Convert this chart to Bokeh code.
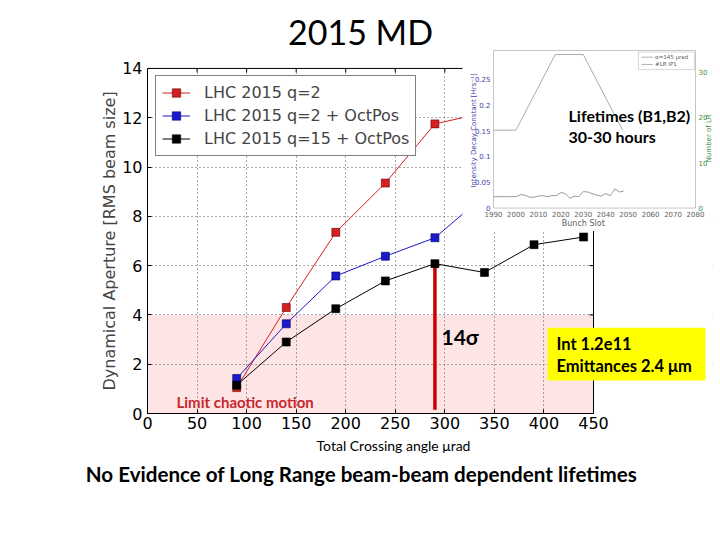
import numpy as np
from bokeh.plotting import figure
from bokeh.models import Range1d, FixedTicker, Label, BoxAnnotation, Title
from bokeh.core.properties import value
from bokeh.embed import file_html
from bokeh.resources import INLINE

# ---------------- data ----------------
angles = [90, 140, 190, 240, 290, 340, 390, 440]
da_q2 = [1.05, 4.3, 7.35, 9.35, 11.75, 12.2]
da_q2_oct = [1.42, 3.64, 5.58, 6.38, 7.13, 8.85]
da_q15_oct = [1.15, 2.9, 4.25, 5.38, 6.08, 5.72, 6.85, 7.16]
series_labels = ["LHC 2015 q=2", "LHC 2015 q=2 + OctPos", "LHC 2015 q=15 + OctPos"]
x_ticks = [0, 50, 100, 150, 200, 250, 300, 350, 400, 450]
y_ticks = [0, 2, 4, 6, 8, 10, 12, 14]
chaos_limit = 4.0
sigma_angle = 290
sigma_da = 6.08
sigma_base = 0.15

# inset (bunch-by-bunch lifetime) data
slot_lr = [1990, 2000, 2017.5, 2030, 2047.5]
n_lr = [17.2, 17.2, 33.9, 33.9, 17.2]
slot_decay = [1990, 1995, 2000, 2002, 2004, 2006, 2008, 2010, 2012, 2014, 2016, 2018,
              2020, 2022, 2024, 2026, 2028, 2030, 2032, 2034, 2036, 2038, 2040, 2042,
              2043, 2044, 2045, 2046, 2048]
decay = [0.022, 0.022, 0.022, 0.026, 0.025, 0.021, 0.021, 0.023, 0.024, 0.022, 0.024, 0.024,
         0.030, 0.028, 0.019, 0.023, 0.022, 0.032, 0.031, 0.028, 0.025, 0.023, 0.028, 0.024,
         0.030, 0.037, 0.035, 0.031, 0.033]
inset_x_ticks = [1990, 2000, 2010, 2020, 2030, 2040, 2050, 2060, 2070, 2080]
inset_left_ticks = [0, 0.05, 0.1, 0.15, 0.2, 0.25]
inset_left_labels = ["0", "0.05", "0.1", "0.15", "0.2", "0.25"]
inset_right_ticks = [0, 10, 20, 30]

# ---------------- layout helpers (reference pixel -> data) ----------------
W, H = 720, 540
F_LEFT, F_RIGHT, F_TOP, F_BOTTOM = 147, 712, 40, 413
X450_PX, Y14_PX = 593, 67
PX_PER_X = (X450_PX - F_LEFT) / 450.0
PX_PER_Y = (F_BOTTOM - Y14_PX) / 14.0
X_END = (F_RIGHT - F_LEFT) / PX_PER_X
Y_END = (F_BOTTOM - F_TOP) / PX_PER_Y
TICK_PX = 4


def dx(px):
    return (px - F_LEFT) / PX_PER_X


def dy(py):
    return (F_BOTTOM - py) / PX_PER_Y


p = figure(width=W, height=H, x_range=Range1d(0, X_END), y_range=Range1d(0, Y_END),
           output_backend="svg", toolbar_location=None,
           min_border_left=F_LEFT, min_border_right=W - F_RIGHT,
           min_border_top=F_TOP, min_border_bottom=H - F_BOTTOM)
p.outline_line_color = None
p.background_fill_color = "white"
p.border_fill_color = "white"

# axes
for ax, ticks, bnds in ((p.xaxis[0], x_ticks, (0, 450)), (p.yaxis[0], y_ticks, (0, 14))):
    ax.ticker = FixedTicker(ticks=ticks)
    ax.bounds = bnds
    ax.major_tick_in = TICK_PX
    ax.major_tick_out = 0
    ax.minor_tick_line_color = None
    ax.axis_line_color = "black"
    ax.major_tick_line_color = "black"
    ax.major_label_text_font = "DejaVu Sans"
    ax.major_label_text_font_size = "16px"
    ax.major_label_text_color = "black"
p.xaxis.major_label_standoff = 3
p.yaxis.major_label_standoff = 5

p.xgrid.ticker = FixedTicker(ticks=x_ticks)
p.ygrid.ticker = FixedTicker(ticks=y_ticks)
for g in (p.xgrid[0], p.ygrid[0]):
    g.grid_line_color = "#555555"
    g.grid_line_dash = "1 3"
    g.grid_line_width = 1

# chaotic-motion zone
p.add_layout(BoxAnnotation(left=0, right=x_ticks[-1], bottom=0, top=chaos_limit,
                           fill_color="#fde5e5", fill_alpha=1, line_color=None, level="image"))

# mask grid outside the main axes box
p.quad(left=[0], right=[X_END], bottom=[y_ticks[-1]], top=[Y_END], fill_color="white", line_color=None)
p.quad(left=[x_ticks[-1]], right=[X_END], bottom=[0], top=[Y_END], fill_color="white", line_color=None)
# top and right spines with inward ticks (matplotlib style box)
xmax, ymax = x_ticks[-1], y_ticks[-1]
p.segment(x0=[0, xmax], y0=[ymax, 0], x1=[xmax, xmax], y1=[ymax, ymax], line_color="black", line_width=1)
p.segment(x0=x_ticks, y0=[ymax] * len(x_ticks), x1=x_ticks,
          y1=[ymax - TICK_PX / PX_PER_Y] * len(x_ticks), line_color="black", line_width=1)
p.segment(x0=[xmax] * len(y_ticks), y0=y_ticks, x1=[xmax - TICK_PX / PX_PER_X] * len(y_ticks),
          y1=y_ticks, line_color="black", line_width=1)

# 14 sigma line
p.segment(x0=[sigma_angle], y0=[sigma_base], x1=[sigma_angle], y1=[sigma_da],
          line_color="#cc0000", line_width=3.5)

colors = ["#d42020", "#1a1acc", "#000000"]
edges = ["#6a0000", "#000060", "#000000"]
for ys, col, ed, lab in zip([da_q2, da_q2_oct, da_q15_oct], colors, edges, series_labels):
    xs = angles[:len(ys)]
    p.line(xs, ys, line_color=col, line_width=1, legend_label=lab)
    p.scatter(xs, ys, marker="square", size=8, fill_color=col, line_color=ed, line_width=0.6,
              legend_label=lab)

leg = p.legend[0]
leg.location = (8, 257)
leg.label_text_font = "DejaVu Sans"
leg.label_text_font_size = "16px"
leg.glyph_width = 28
leg.glyph_height = 21
leg.label_height = 21
leg.label_standoff = 14
leg.spacing = 2
leg.padding = 6
leg.margin = 0
leg.border_line_color = "black"
leg.border_line_width = 1
leg.background_fill_alpha = 1

# ---------------- inset ----------------
p.quad(left=[dx(462)], right=[X_END], bottom=[dy(230)], top=[Y_END], fill_color="white", line_color=None)
xt = Range1d(dx(493), dx(695))
yt = Range1d(dy(207), dy(49))
sub_l = p.subplot(x_source=Range1d(1990, 2080), y_source=Range1d(0, 0.305), x_target=xt, y_target=yt)
sub_r = p.subplot(x_source=Range1d(1990, 2080), y_source=Range1d(0, 34.8), x_target=xt, y_target=yt)

sub_l.quad(left=[1990], right=[2080], bottom=[0], top=[0.305], fill_color=None,
           line_color="#b5b5b5", line_width=0.8)
sub_r.line(slot_lr, n_lr, line_color="#ababab", line_width=1)
sub_l.line(slot_decay, decay, line_color="#9a9a9a", line_width=1)

small = value("DejaVu Sans")
sub_l.text(x=[1990] * len(inset_left_ticks), y=inset_left_ticks, text=inset_left_labels,
           text_align="right", text_baseline="middle", x_offset=-3, text_font=small,
           text_font_size="7px", text_color="#4040a8")
sub_r.text(x=[2080] * len(inset_right_ticks), y=inset_right_ticks, text=[str(t) for t in inset_right_ticks],
           text_align="left", text_baseline="middle", x_offset=3, text_font=small,
           text_font_size="7px", text_color="#3c8c3c")
sub_l.text(x=inset_x_ticks, y=[0] * len(inset_x_ticks), text=[str(t) for t in inset_x_ticks],
           text_align="center", text_baseline="top", y_offset=3, text_font=small,
           text_font_size="7px", text_color="#606060")
sub_l.text(x=[2030], y=[0], text=["Bunch Slot"], text_align="center", text_baseline="top",
           y_offset=11, text_font=small, text_font_size="8px", text_color="#606060")
sub_l.text(x=[1990], y=[0.15], text=["Intensity Decay Constant [Hrs\u207b\u00b9]"], angle=np.pi / 2,
           text_align="center", text_baseline="middle", x_offset=-20, text_font=small,
           text_font_size="7px", text_color="#4040a8")
sub_r.text(x=[2080], y=[15.4], text=["Number of LR"], angle=np.pi / 2,
           text_align="center", text_baseline="middle", x_offset=13, text_font=small,
           text_font_size="7px", text_color="#3c8c3c")
# inset legend
sub_l.quad(left=[2054.6], right=[2079.5], bottom=[0.268], top=[0.302], fill_color="white",
           line_color="#c0c0c0", line_width=0.6)
sub_l.segment(x0=[2056, 2056], y0=[0.292, 0.278], x1=[2061, 2061], y1=[0.292, 0.278],
              line_color="#9a9a9a", line_width=0.8)
sub_l.text(x=[2062, 2062], y=[0.292, 0.278], text=["\u03b1=145 \u03bcrad", "#LR IP1"],
           text_align="left", text_baseline="middle", text_font=small, text_font_size="5.5px",
           text_color="#606060")


# ---------------- annotations / texts ----------------
def lab(x, y, text, size, font="Lato", style="normal", color="black", align="left",
        angle=0, place="center"):
    lbl = Label(x=x, y=y, text=text, text_font=font, text_font_size=size,
                text_font_style=style, text_color=color, text_align=align,
                text_baseline="middle", angle=angle)
    p.add_layout(lbl, place)


lab(dx(568), dy(114), "Lifetimes (B1,B2)", "16px", style="bold")
lab(dx(568), dy(135), "30-30 hours", "16px", style="bold")

p.add_layout(BoxAnnotation(left=dx(547), right=dx(705), bottom=dy(380), top=dy(327),
                           fill_color="#ffff00", fill_alpha=1, line_color=None))
lab(dx(556), dy(343), "Int 1.2e11", "16.5px", style="bold")
lab(dx(556), dy(365), "Emittances 2.4 \u03bcm", "16.5px", style="bold")

lab(dx(441), dy(336), "14\u03c3", "21px", style="bold")
lab(dx(176), dy(401), "Limit chaotic motion", "15px", style="bold", color="#c8282d")

# texts outside the axes box live in the side panels (not clipped to the frame)
lab(dx(360), dy(30), "2015 MD", "34px", align="center", place="above")
lab(dx(393), dy(445), "Total Crossing angle \u03bcrad", "14px", align="center", place="below")
lab(dx(361), dy(474), "No Evidence of Long Range beam-beam dependent lifetimes", "20.6px",
    style="bold", align="center", place="below")

ylab = Title(text="Dynamical Aperture [RMS beam size]", align="left", offset=F_BOTTOM - 390,
             text_font="DejaVu Sans", text_font_size="16px", text_font_style="normal",
             standoff=2)
p.add_layout(ylab, "left")

open("out.html", "w").write(file_html(p, INLINE))
